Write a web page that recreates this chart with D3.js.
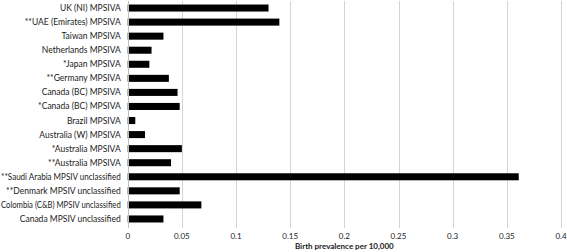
<!DOCTYPE html>
<html lang="en">
<head>
    <title>Birth prevalence</title>
    <script src="https://d3js.org/d3.v7.min.js"></script>
    <style>
        body { margin: 0; background: #fff; }
        text { font-family: Lato, "Liberation Sans", sans-serif; fill: #1a1a1a; }
    </style>
</head>
<body>

<script>
    const categories = [
        "UK (NI) MPSIVA",
        "**UAE (Emirates) MPSIVA",
        "Taiwan MPSIVA",
        "Netherlands MPSIVA",
        "*Japan MPSIVA",
        "**Germany MPSIVA",
        "Canada (BC) MPSIVA",
        "*Canada (BC) MPSIVA",
        "Brazil MPSIVA",
        "Australia (W) MPSIVA",
        "*Australia MPSIVA",
        "**Australia MPSIVA",
        "**Saudi Arabia MPSIV unclassified",
        "**Denmark MPSIV unclassified",
        "Colombia (C&B) MPSIV  unclassified",
        "Canada MPSIV unclassified"
    ];
    const values = [0.13, 0.14, 0.033, 0.022, 0.020, 0.038, 0.046, 0.048, 0.007,
                    0.016, 0.050, 0.040, 0.361, 0.048, 0.068, 0.033];
    const ticks = [0, 0.05, 0.1, 0.15, 0.2, 0.25, 0.3, 0.35, 0.4];
    const xTitle = "Birth prevalence per 10,000";

    const margin = {top: 1, left: 127.7, right: 6, bottom: 26};
    const width = 567, height = 252;

    const x = d3.scaleLinear().domain([0, 0.4]).range([margin.left, width - margin.right]);
    const y = d3.scaleBand().domain(categories)
            .range([margin.top, height - margin.bottom]).paddingInner(0.5).paddingOuter(0.25);

    const svg = d3.select("body").append("svg").attr("width", width).attr("height", height);

    // grid
    svg.append("g")
            .selectAll("line")
            .data(ticks.slice(1)).join("line")
            .attr("x1", d => Math.round(x(d)) + 0.5).attr("x2", d => Math.round(x(d)) + 0.5)
            .attr("y1", margin.top).attr("y2", height - margin.bottom + 2)
            .attr("stroke", "#d4d4d4").attr("stroke-width", 1);

    // bars
    svg.append("g")
            .selectAll("rect")
            .data(values).join("rect")
            .attr("x", x(0))
            .attr("y", (d, i) => y(categories[i]))
            .attr("width", d => x(d) - x(0))
            .attr("height", y.bandwidth())
            .attr("fill", "#000");

    // y axis line
    svg.append("line")
            .attr("x1", Math.round(x(0)) + 0.5).attr("x2", Math.round(x(0)) + 0.5)
            .attr("y1", margin.top).attr("y2", height - margin.bottom + 2)
            .attr("stroke", "#bfbfbf");

    // category labels, squeezed if they would run past the left edge
    const labelRight = margin.left - 7;
    svg.append("g")
            .selectAll("text")
            .data(categories).join("text")
            .attr("x", labelRight)
            .attr("y", d => y(d) + y.bandwidth() / 2)
            .attr("dy", "0.35em")
            .attr("text-anchor", "end")
            .style("font-size", "8.5px")
            .text(d => d)
            .each(function() {
                if (this.getComputedTextLength() > labelRight - 1) {
                    d3.select(this).attr("textLength", labelRight - 1).attr("lengthAdjust", "spacingAndGlyphs");
                }
            });

    // tick labels
    svg.append("g")
            .selectAll("text")
            .data(ticks).join("text")
            .attr("x", d => x(d))
            .attr("y", height - margin.bottom + 13)
            .attr("text-anchor", "middle")
            .style("font-size", "8px")
            .text(d => d);

    svg.append("text")
            .attr("x", (x(0) + x(0.4)) / 2)
            .attr("y", height - margin.bottom + 23)
            .attr("text-anchor", "middle")
            .style("font-size", "8px")
            .style("font-weight", "bold")
            .text(xTitle);
</script>

</body>
</html>
